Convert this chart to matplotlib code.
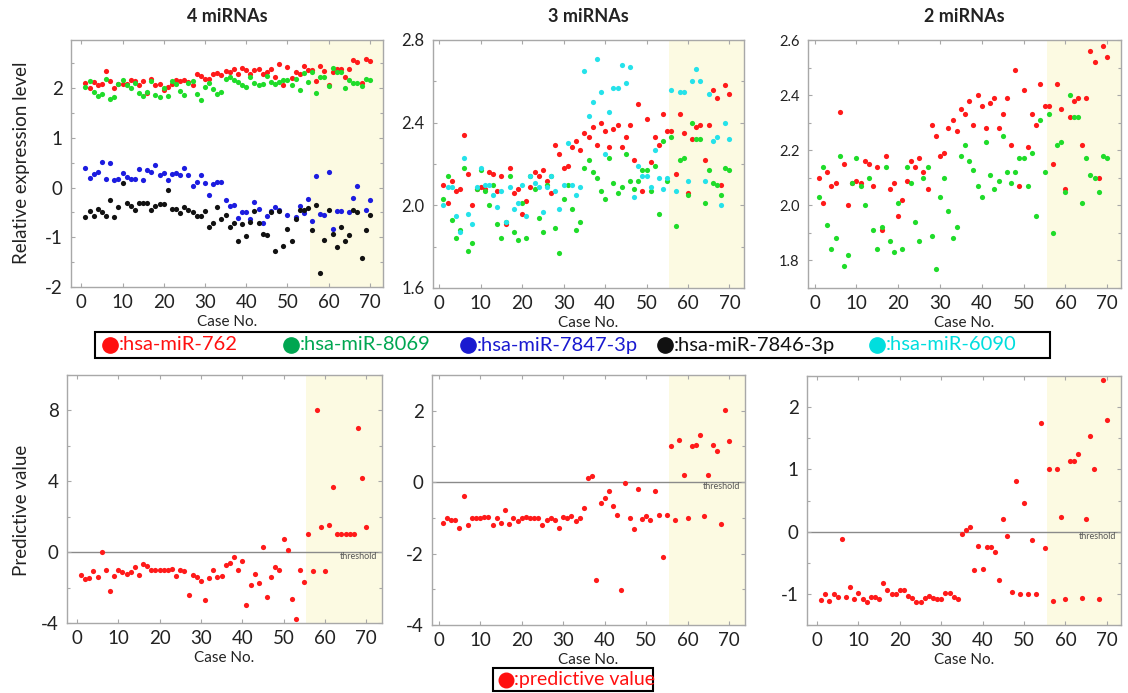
import numpy as np
import matplotlib
matplotlib.use("Agg")
import matplotlib.pyplot as plt
from matplotlib.lines import Line2D
from matplotlib.patches import Rectangle
from matplotlib.ticker import MultipleLocator
import matplotlib.transforms as mtransforms

plt.rcParams['font.family'] = ['Lato', 'DejaVu Sans']
plt.rcParams['axes.unicode_minus'] = False

# ---- data ----
case_no = np.arange(1, 71)
nan = np.nan

mir_762 = [2.10, 2.01, 2.12, 2.07, 2.08, 2.34, 2.15, 2.00, 2.08, 2.09,
           2.08, 2.16, 2.15, 2.07, 2.14, 1.91, 2.18, 2.06, 2.08, 1.96,
           2.02, 2.09, 2.16, 2.14, 2.17, 2.12, 2.06, 2.29, 2.25, 2.18,
           2.19, 2.28, 2.31, 2.27, 2.35, 2.33, 2.38, 2.29, 2.40, 2.36,
           2.28, 2.37, 2.39, 2.28, 2.33, 2.39, 2.22, 2.49, 2.07, 2.42,
           2.21, 2.33, 2.29, 2.44, 2.36, 2.36, 2.15, 2.44, 2.35, 2.06,
           2.32, 2.38, 2.39, 2.22, 2.39, 2.56, 2.52, 2.10, 2.58, 2.54]

mir_8069 = [2.03, 2.14, 1.93, 1.84, 1.88, 2.18, 1.78, 1.82, 2.08, 2.17,
            2.07, 2.00, 2.10, 1.91, 1.84, 1.92, 2.14, 1.87, 1.83, 2.01,
            1.84, 2.14, 2.08, 1.94, 1.87, 2.10, 2.14, 1.89, 1.77, 2.03,
            2.10, 1.98, 1.88, 1.92, 2.18, 2.22, 2.16, 2.13, 2.07, 2.03,
            2.23, 2.11, 2.06, 2.09, 2.25, 2.12, 2.08, 2.12, 2.17, 2.17,
            2.07, 2.19, 1.96, 2.31, 2.12, 2.33, 1.90, 2.22, 2.23, 2.05,
            2.40, 2.32, 2.32, 2.01, 2.17, 2.11, 2.10, 2.05, 2.18, 2.17]

mir_7847 = [0.40, 0.19, 0.27, 0.32, 0.52, 0.17, 0.50, 0.15, 0.18, 0.29,
            0.22, 0.17, 0.18, 0.38, 0.15, 0.35, 0.32, 0.45, 0.25, 0.29,
            0.15, 0.27, 0.29, 0.25, 0.40, 0.25, 0.03, 0.12, 0.25, 0.09,
            -0.15, 0.07, 0.11, 0.12, -0.25, -0.37, -0.35, -0.62, -0.49, -0.50,
            -0.63, -0.29, -0.43, -0.72, -0.57, -0.48, -0.39, -0.46, nan, -0.55,
            nan, -0.60, -0.37, -0.52, -0.23, -0.67, 0.23, -0.53, -0.55, 0.31,
            -0.83, -0.47, -0.47, nan, -0.50, -0.20, 0.03, nan, -0.45, -0.25]

mir_7846 = [-0.59, -0.48, -0.58, -0.43, -0.50, -0.57, -0.25, -0.59, -0.39, 0.09,
            -0.31, -0.38, -0.45, -0.31, -0.31, -0.31, -0.45, -0.38, -0.32, -0.32,
            -0.05, -0.43, -0.43, -0.52, -0.39, -0.45, -0.50, -0.58, -0.58, -0.47,
            -0.80, -0.71, -0.39, -0.63, -0.55, -0.80, -0.72, -1.07, -0.73, -0.97,
            -0.69, -0.47, -0.72, -0.93, -0.95, -0.49, -1.28, -0.47, -1.17, -0.83,
            -1.07, -0.63, -0.45, -0.45, -0.41, -0.85, -0.35, -1.71, -1.05, -0.45,
            -0.93, -1.20, -0.79, -1.08, -0.95, -0.45, -0.49, -1.41, -0.85, -0.55]

mir_6090 = [2.00, 2.09, 2.09, 1.95, 1.87, 2.23, 1.96, 1.91, 2.09, 2.18,
            2.10, 2.10, 2.05, 1.99, 2.07, 1.92, 2.09, 1.98, 2.01, 2.10,
            1.95, 2.14, 2.11, 2.09, 1.97, 2.09, 2.14, 2.07, 1.98, 2.10,
            2.30, 2.10, 2.05, 2.09, 2.65, 2.43, 2.50, 2.71, 2.55, 2.25,
            2.45, 2.57, 2.57, 2.68, 2.59, 2.67, 2.04, 2.19, 2.14, 2.14,
            2.09, 2.27, 2.13, 2.08, 2.13, 2.56, 2.07, 2.55, 2.55, 2.12,
            2.60, 2.66, 2.60, 2.12, 2.54, 2.31, 2.33, 2.00, 2.40, 2.32]

pred_4 = [-1.27, -1.50, -1.48, -1.09, -1.42, 0.00, -1.03, -2.21, -1.37, -1.03,
          -1.12, -1.24, -1.14, -0.86, -1.31, -0.67, -0.77, -1.03, -1.03, -1.03,
          -1.03, -1.03, -0.94, -1.37, -1.03, -1.05, -2.40, -1.31, -1.40, -1.61,
          -2.68, -1.46, -1.03, -1.42, -1.37, -0.75, -0.62, -0.28, -1.03, -0.49,
          -3.00, -1.84, -1.24, -1.74, 0.28, -2.53, -1.42, -0.86, -1.03, 0.75,
          0.11, -2.64, -3.80, -1.03, -1.69, 1.01, -1.09, 8.00, 1.44, -1.09,
          1.54, 3.65, 1.01, 1.01, 1.01, 1.01, 1.01, 7.00, 4.21, 1.44]

pred_3 = [-1.14, -1.00, -1.05, -1.06, -1.29, -0.40, -1.19, -1.00, -1.00, -1.00,
          -0.98, -0.98, -1.20, -1.00, -1.15, -0.79, -1.17, -1.00, -1.09, -1.00,
          -0.98, -1.00, -1.00, -1.01, -1.19, -1.06, -1.00, -1.06, -1.28, -0.98,
          -1.00, -0.96, -1.10, -1.00, -0.73, 0.12, 0.16, -2.73, -0.58, -0.44,
          -0.26, -0.67, -0.92, -3.02, -0.02, -1.00, -1.31, -0.19, -1.03, -0.96,
          -1.07, -0.26, -0.91, -2.10, -0.92, 1.01, -1.06, 1.19, 0.21, -1.00,
          1.00, 1.05, 1.31, -0.95, 0.21, 1.05, 0.87, -1.17, 2.03, 1.14]

pred_2 = [-1.10, -1.01, -1.11, -1.01, -1.05, -0.12, -1.05, -0.89, -1.08, -0.99,
          -1.08, -1.13, -1.05, -1.05, -1.09, -0.82, -0.93, -1.01, -1.01, -0.94,
          -0.93, -1.03, -1.06, -1.13, -1.13, -1.06, -1.03, -1.06, -1.09, -1.09,
          -0.98, -0.99, -1.05, -1.09, -0.04, 0.03, 0.07, -0.61, -0.23, -0.60,
          -0.25, -0.24, -0.33, -0.77, 0.20, -0.07, -0.97, 0.82, -1.01, 0.46,
          -1.01, -0.13, -1.01, 1.74, -0.27, 1.01, -1.12, 1.01, 0.23, -1.08,
          1.14, 1.13, 1.24, -1.06, 0.20, 1.54, 1.01, -1.09, 2.43, 1.79]

titles = ["4 miRNAs", "3 miRNAs", "2 miRNAs"]
legend_labels = [":hsa-miR-762", ":hsa-miR-8069", ":hsa-miR-7847-3p",
                 ":hsa-miR-7846-3p", ":hsa-miR-6090"]
shade_start = 55.5
threshold = 0

# colours
c_red, c_green, c_blue, c_black, c_cyan = "#ff1a1a", "#1fdc2a", "#1c1ce0", "#111111", "#25e2ea"
legend_colors = ["#ff1010", "#00a651", "#1a1ad0", "#111111", "#00dede"]
shade_color = "#fcfae2"
spine_color = "#a8a8a8"

W, H = 1128, 693
fig = plt.figure(figsize=(W / 100, H / 100), dpi=100)


def make_ax(left, right, top, bottom):
    return fig.add_axes([left / W, 1 - bottom / H, (right - left) / W, (bottom - top) / H])


def style(ax, xlim, ylim, major, minor, ysize):
    ax.set_xlim(*xlim)
    ax.set_ylim(*ylim)
    ax.axvspan(shade_start, xlim[1], color=shade_color, zorder=0, lw=0)
    ax.xaxis.set_major_locator(MultipleLocator(10))
    ax.yaxis.set_major_locator(MultipleLocator(major))
    ax.yaxis.set_minor_locator(MultipleLocator(minor))
    ax.tick_params(which="both", direction="in", top=True, right=True,
                   color=spine_color, length=3, width=0.8, labelcolor="#222222")
    ax.tick_params(which="minor", length=2)
    ax.tick_params(axis="x", labelsize=13.5, pad=5)
    ax.tick_params(axis="y", labelsize=ysize, pad=6)
    for s in ax.spines.values():
        s.set_color(spine_color)
        s.set_linewidth(1.0)
    ax.text(0.5, -0.14, "Case No.", transform=ax.transAxes, ha="center",
            va="center", fontsize=11, color="#222222")


def threshold_line(ax):
    ax.axhline(threshold, color="#8a8a8a", lw=1.0, zorder=1)
    tr = mtransforms.blended_transform_factory(ax.transAxes, ax.transData)
    ax.text(0.985, threshold, "threshold", transform=tr, ha="right", va="top",
            fontsize=6.5, color="#555555")


dot = dict(s=14, linewidths=0, zorder=3)

# ---- top row ----
ax1 = make_ax(71, 383, 40, 287)
style(ax1, (-2.5, 73.2), (-2.0, 2.97), 1, 0.5, 13.5)
ax1.scatter(case_no, mir_762, color=c_red, **dot)
ax1.scatter(case_no, mir_8069, color=c_green, **dot)
ax1.scatter(case_no, mir_7847, color=c_blue, **dot)
ax1.scatter(case_no, mir_7846, color=c_black, **dot)

ax2 = make_ax(433, 744, 40, 288)
style(ax2, (-1.5, 73.5), (1.6, 2.8), 0.4, 0.2, 12)
ax2.scatter(case_no, mir_762, color=c_red, **dot)
ax2.scatter(case_no, mir_8069, color=c_green, **dot)
ax2.scatter(case_no, mir_6090, color=c_cyan, **dot)

ax3 = make_ax(808, 1121, 40, 288)
style(ax3, (-1.6, 73.3), (1.7, 2.6), 0.2, 0.1, 10.5)
ax3.scatter(case_no, mir_762, color=c_red, **dot)
ax3.scatter(case_no, mir_8069, color=c_green, **dot)
for ax in (ax2, ax3):
    ax.yaxis.set_major_formatter(matplotlib.ticker.FormatStrFormatter("%.1f"))

# ---- bottom row ----
ax4 = make_ax(67, 382, 375, 623)
style(ax4, (-2.4, 73.8), (-4, 10), 4, 2, 13.5)
threshold_line(ax4)
ax4.scatter(case_no, pred_4, color=c_red, **dot)

ax5 = make_ax(432, 745, 375, 625)
style(ax5, (-1.6, 73.8), (-4, 3), 2, 1, 13.5)
threshold_line(ax5)
ax5.scatter(case_no, pred_3, color=c_red, **dot)

ax6 = make_ax(807, 1121, 376, 625)
style(ax6, (-2.4, 73.4), (-1.5, 2.5), 1, 0.5, 13.5)
threshold_line(ax6)
ax6.scatter(case_no, pred_2, color=c_red, **dot)

# titles and y labels
for ax, t in zip((ax1, ax2, ax3), titles):
    bb = ax.get_position()
    fig.text((bb.x0 + bb.x1) / 2, 1 - 17 / H, t, ha="center", va="center",
             fontsize=13, fontweight="bold", color="#222222")
fig.text(22 / W, 1 - 163 / H, "Relative expression level", rotation=90,
         ha="center", va="center", fontsize=13.5, color="#222222")
fig.text(22 / W, 1 - 510 / H, "Predictive value", rotation=90,
         ha="center", va="center", fontsize=13.5, color="#222222")

# ---- legend box (top) ----
fig.add_artist(Rectangle((95 / W, 1 - 358 / H), (1050 - 95) / W, 26 / H,
                         transform=fig.transFigure, fill=False, ec="black", lw=1.5))
marker_x = [110, 291, 468, 665, 877]
for mx, lab, col in zip(marker_x, legend_labels, legend_colors):
    fig.add_artist(Line2D([mx / W], [1 - 345 / H], marker="o", ms=11, color=col,
                          mec=col, ls="none", transform=fig.transFigure))
    fig.text((mx + 9) / W, 1 - 345 / H, lab, ha="left", va="center",
             fontsize=14.5, color=col)

# ---- legend box (bottom) ----
fig.add_artist(Rectangle((493 / W, 1 - 691 / H), (653 - 493) / W, 23 / H,
                         transform=fig.transFigure, fill=False, ec="black", lw=1.5))
fig.add_artist(Line2D([506 / W], [1 - 680 / H], marker="o", ms=10.5, color="#ff1010",
                      ls="none", transform=fig.transFigure))
fig.text(514 / W, 1 - 680 / H, ":predictive value", ha="left", va="center",
         fontsize=14, color="#ff1010")

fig.savefig("out.png", dpi=100)
